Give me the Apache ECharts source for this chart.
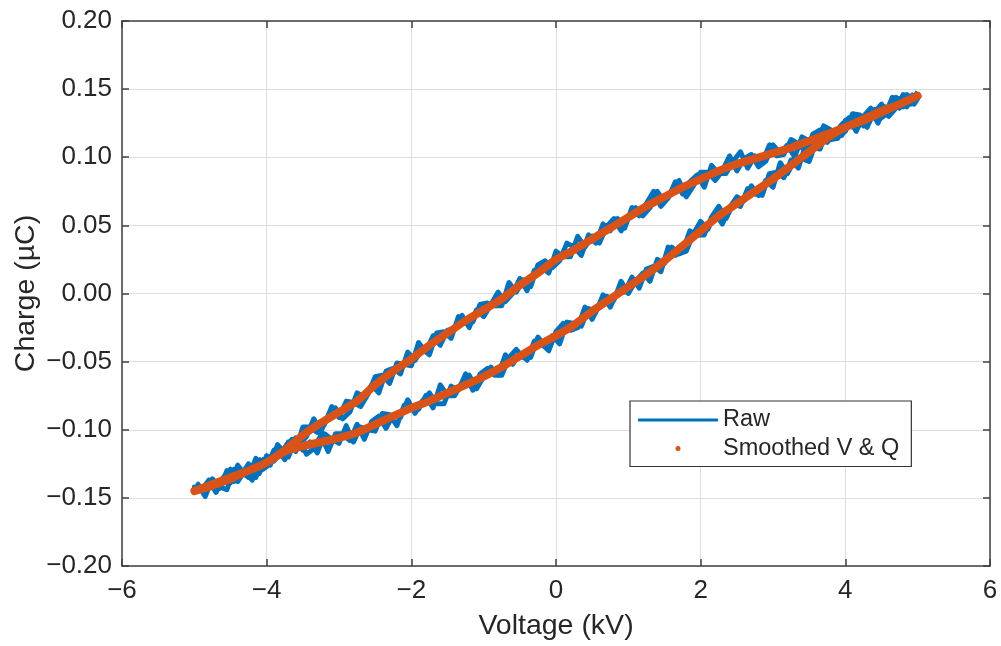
<!DOCTYPE html>
<html>
<head>
<meta charset="utf-8">
<title>Charge vs Voltage</title>
<style>
html,body{
	margin:0;
	padding:0;
	background:#fff;
}
#chart{
	width:1001px;
	height:646px;
}
</style>
<script src="https://cdn.jsdelivr.net/npm/echarts@6/dist/echarts.min.js"></script>
</head>
<body>
<div id="chart"></div>
<script type="text/javascript">
	// 坐标轴刻度
	var xTicks=[-6,-4,-2,0,2,4,6];
	var yTicks=[-0.2,-0.15,-0.1,-0.05,0,0.05,0.1,0.15,0.2];

	// 原始数据, 第一周期 - 下降段 (V: 5 -> -5)
	var upV=[5.0,4.9,4.8,4.7,4.6,4.5,4.4,4.3,4.2,4.1,4.0,3.9,3.8,3.7,3.6,3.5,3.4,3.3,3.2,3.1,
		3.0,2.9,2.8,2.7,2.6,2.5,2.4,2.3,2.2,2.1,2.0,1.9,1.8,1.7,1.6,1.5,1.4,1.3,1.2,1.1,
		1.0,0.9,0.8,0.7,0.6,0.5,0.4,0.3,0.2,0.1,0.0,-0.1,-0.2,-0.3,-0.4,-0.5,-0.6,-0.7,-0.8,-0.9,
		-1.0,-1.1,-1.2,-1.3,-1.4,-1.5,-1.6,-1.7,-1.8,-1.9,-2.0,-2.1,-2.2,-2.3,-2.4,-2.5,-2.6,-2.7,-2.8,-2.9,
		-3.0,-3.1,-3.2,-3.3,-3.4,-3.5,-3.6,-3.7,-3.8,-3.9,-4.0,-4.1,-4.2,-4.3,-4.4,-4.5,-4.6,-4.7,-4.8,-4.9,-5.0];
	var upQ=[0.148,0.139,0.146,0.136,0.130,0.139,0.133,0.122,0.131,0.132,0.119,0.115,0.120,0.123,0.108,0.112,0.115,0.100,0.109,0.103,
		0.109,0.097,0.093,0.102,0.099,0.090,0.101,0.090,0.083,0.089,0.089,0.079,0.071,0.083,0.074,0.067,0.075,0.063,0.057,0.063,
		0.057,0.046,0.055,0.049,0.037,0.042,0.034,0.042,0.027,0.027,0.031,0.015,0.019,0.017,0.002,0.011,0.000,-0.006,0.001,-0.008,
		-0.017,-0.012,-0.025,-0.016,-0.026,-0.027,-0.038,-0.031,-0.043,-0.036,-0.053,-0.052,-0.051,-0.066,-0.060,-0.061,-0.074,-0.083,-0.080,-0.079,
		-0.091,-0.083,-0.096,-0.102,-0.098,-0.098,-0.116,-0.109,-0.117,-0.123,-0.119,-0.132,-0.126,-0.133,-0.126,-0.139,-0.135,-0.144,-0.137,-0.144,-0.142];

	// 原始数据, 第一周期 - 上升段 (V: -5 -> 5)
	var loV=[-4.9,-4.8,-4.7,-4.6,-4.5,-4.4,-4.3,-4.2,-4.1,-4.0,-3.9,-3.8,-3.7,-3.6,-3.5,-3.4,-3.3,-3.2,-3.1,-3.0,
		-2.9,-2.8,-2.7,-2.6,-2.5,-2.4,-2.3,-2.2,-2.1,-2.0,-1.9,-1.8,-1.7,-1.6,-1.5,-1.4,-1.3,-1.2,-1.1,-1.0,
		-0.9,-0.8,-0.7,-0.6,-0.5,-0.4,-0.3,-0.2,-0.1,0.0,0.1,0.2,0.3,0.4,0.5,0.6,0.7,0.8,0.9,1.0,
		1.1,1.2,1.3,1.4,1.5,1.6,1.7,1.8,1.9,2.0,2.1,2.2,2.3,2.4,2.5,2.6,2.7,2.8,2.9,3.0,
		3.1,3.2,3.3,3.4,3.5,3.6,3.7,3.8,3.9,4.0,4.1,4.2,4.3,4.4,4.5,4.6,4.7,4.8,4.9,5.0];
	var loQ=[-0.145,-0.137,-0.146,-0.135,-0.129,-0.138,-0.130,-0.137,-0.122,-0.127,-0.115,-0.119,-0.120,-0.106,-0.115,-0.109,-0.117,-0.103,-0.107,-0.110,
		-0.097,-0.109,-0.098,-0.100,-0.101,-0.088,-0.089,-0.097,-0.082,-0.083,-0.085,-0.075,-0.084,-0.067,-0.075,-0.075,-0.065,-0.060,-0.070,-0.061,
		-0.054,-0.060,-0.045,-0.052,-0.044,-0.049,-0.035,-0.037,-0.042,-0.028,-0.022,-0.027,-0.025,-0.010,-0.019,-0.008,-0.002,-0.005,0.009,0.000,
		0.009,0.015,0.009,0.025,0.022,0.034,0.029,0.031,0.044,0.053,0.047,0.059,0.051,0.063,0.071,0.068,0.079,0.072,0.083,0.078,
		0.096,0.088,0.098,0.099,0.097,0.112,0.118,0.113,0.114,0.127,0.122,0.129,0.122,0.135,0.134,0.131,0.144,0.137,0.145,0.143];

	// 原始数据, 第二周期 - 下降段
	var up2V=[4.95,4.85,4.75,4.65,4.55,4.45,4.35,4.25,4.15,4.05,3.95,3.85,3.75,3.65,3.55,3.45,3.35,3.25,3.15,3.05,
		2.95,2.85,2.75,2.65,2.55,2.45,2.35,2.25,2.15,2.05,1.95,1.85,1.75,1.65,1.55,1.45,1.35,1.25,1.15,1.05,
		0.95,0.85,0.75,0.65,0.55,0.45,0.35,0.25,0.15,0.05,-0.05,-0.15,-0.25,-0.35,-0.45,-0.55,-0.65,-0.75,-0.85,-0.95,
		-1.05,-1.15,-1.25,-1.35,-1.45,-1.55,-1.65,-1.75,-1.85,-1.95,-2.05,-2.15,-2.25,-2.35,-2.45,-2.55,-2.65,-2.75,-2.85,-2.95,
		-3.05,-3.15,-3.25,-3.35,-3.45,-3.55,-3.65,-3.75,-3.85,-3.95,-4.05,-4.15,-4.25,-4.35,-4.45,-4.55,-4.65,-4.75,-4.85,-4.95];
	var up2Q=[0.139,0.146,0.136,0.144,0.131,0.127,0.136,0.130,0.119,0.129,0.124,0.117,0.111,0.120,0.117,0.104,0.110,0.113,0.102,0.101,
		0.109,0.096,0.101,0.092,0.104,0.097,0.088,0.088,0.094,0.078,0.087,0.082,0.073,0.082,0.070,0.064,0.075,0.066,0.057,0.063,
		0.048,0.055,0.046,0.051,0.037,0.043,0.028,0.034,0.037,0.024,0.019,0.024,0.021,0.005,0.010,0.001,0.008,-0.009,-0.009,-0.007,
		-0.008,-0.021,-0.022,-0.017,-0.033,-0.028,-0.029,-0.045,-0.041,-0.049,-0.043,-0.059,-0.055,-0.057,-0.073,-0.067,-0.076,-0.073,-0.087,-0.092,
		-0.084,-0.090,-0.101,-0.092,-0.105,-0.111,-0.107,-0.117,-0.111,-0.126,-0.122,-0.135,-0.125,-0.133,-0.138,-0.130,-0.143,-0.138,-0.148,-0.140];

	// 原始数据, 第二周期 - 上升段
	var lo2V=[-4.95,-4.85,-4.75,-4.65,-4.55,-4.45,-4.35,-4.25,-4.15,-4.05,-3.95,-3.85,-3.75,-3.65,-3.55,-3.45,-3.35,-3.25,-3.15,-3.05,
		-2.95,-2.85,-2.75,-2.65,-2.55,-2.45,-2.35,-2.25,-2.15,-2.05,-1.95,-1.85,-1.75,-1.65,-1.55,-1.45,-1.35,-1.25,-1.15,-1.05,
		-0.95,-0.85,-0.75,-0.65,-0.55,-0.45,-0.35,-0.25,-0.15,-0.05,0.05,0.15,0.25,0.35,0.45,0.55,0.65,0.75,0.85,0.95,
		1.05,1.15,1.25,1.35,1.45,1.55,1.65,1.75,1.85,1.95,2.05,2.15,2.25,2.35,2.45,2.55,2.65,2.75,2.85,2.95,
		3.05,3.15,3.25,3.35,3.45,3.55,3.65,3.75,3.85,3.95,4.05,4.15,4.25,4.35,4.45,4.55,4.65,4.75,4.85,4.95];
	var lo2Q=[-0.140,-0.149,-0.136,-0.142,-0.144,-0.129,-0.131,-0.135,-0.121,-0.129,-0.125,-0.114,-0.122,-0.112,-0.106,-0.118,-0.114,-0.104,-0.116,-0.103,
		-0.103,-0.108,-0.096,-0.107,-0.094,-0.090,-0.099,-0.089,-0.091,-0.078,-0.088,-0.079,-0.073,-0.081,-0.081,-0.068,-0.071,-0.059,-0.071,-0.059,
		-0.055,-0.060,-0.060,-0.047,-0.041,-0.047,-0.047,-0.032,-0.039,-0.031,-0.037,-0.021,-0.022,-0.024,-0.011,-0.014,-0.001,-0.010,0.002,0.001,
		0.012,0.004,0.018,0.020,0.016,0.034,0.028,0.031,0.046,0.043,0.043,0.056,0.064,0.055,0.066,0.064,0.077,0.073,0.072,0.088,
		0.089,0.085,0.098,0.092,0.109,0.107,0.106,0.120,0.115,0.116,0.125,0.131,0.123,0.135,0.125,0.137,0.135,0.143,0.137,0.147];

	// 平滑后的数据 (先下降段, 再上升段)
	var smoothV=[5.0,4.75,4.5,4.25,4.0,3.75,3.5,3.25,3.0,2.75,2.5,2.25,2.0,1.75,1.5,1.25,1.0,0.75,0.5,0.25,
		0.0,-0.25,-0.5,-0.75,-1.0,-1.25,-1.5,-1.75,-2.0,-2.25,-2.5,-2.75,-3.0,-3.25,-3.5,-3.75,-4.0,-4.25,-4.5,-4.75,-5.0,
		-4.75,-4.5,-4.25,-4.0,-3.75,-3.5,-3.25,-3.0,-2.75,-2.5,-2.25,-2.0,-1.75,-1.5,-1.25,-1.0,-0.75,-0.5,-0.25,
		0.0,0.25,0.5,0.75,1.0,1.25,1.5,1.75,2.0,2.25,2.5,2.75,3.0,3.25,3.5,3.75,4.0,4.25,4.5,4.75,5.0];
	var smoothQ=[0.145,0.139,0.134,0.128,0.122,0.117,0.112,0.107,0.103,0.099,0.095,0.090,0.084,0.078,0.071,0.064,0.056,0.048,0.040,0.032,
		0.025,0.015,0.006,-0.004,-0.012,-0.020,-0.029,-0.038,-0.048,-0.057,-0.067,-0.079,-0.087,-0.095,-0.104,-0.115,-0.124,-0.130,-0.135,-0.140,-0.145,
		-0.141,-0.136,-0.130,-0.124,-0.116,-0.112,-0.109,-0.106,-0.102,-0.096,-0.090,-0.084,-0.079,-0.073,-0.067,-0.061,-0.054,-0.046,-0.038,
		-0.031,-0.023,-0.013,-0.004,0.005,0.014,0.024,0.035,0.046,0.057,0.066,0.075,0.084,0.094,0.104,0.114,0.122,0.127,0.133,0.139,0.145];

	function pairs(vs,qs,out){
		for(var i=0;i<vs.length;i++){
			out.push([vs[i],qs[i]]);
		}
		return out;
	}
	var rawData=[];
	pairs(upV,upQ,rawData);
	pairs(loV,loQ,rawData);
	pairs(up2V,up2Q,rawData);
	pairs(lo2V,lo2Q,rawData);
	var smoothData=pairs(smoothV,smoothQ,[]);

	var fontName='"Liberation Sans", Arial, sans-serif';
	var axisColor='#404040';
	var textColor='#262626';

	function minusSign(s){
		return s.replace('-','\u2212');
	}

	var chart=echarts.init(document.getElementById('chart'));
	var option={
		backgroundColor:'#fff',
		animation:false,
		textStyle:{fontFamily:fontName},
		grid:{left:122,right:11,top:21,bottom:78},
		legend:{
			orient:'vertical',
			left:630,
			top:401,
			padding:[7,12,6,8],
			itemGap:4.5,
			itemWidth:80,
			itemHeight:5,
			backgroundColor:'#fff',
			borderColor:'#333',
			borderWidth:1.2,
			borderRadius:0,
			textStyle:{fontSize:23.5,color:textColor,fontFamily:fontName},
			data:[
				{name:'Raw',icon:'path://M0,0L80,0L80,3L0,3Z'},
				{name:'Smoothed V & Q',icon:'circle'}
			]
		},
		xAxis:[{
			type:'value',
			min:xTicks[0],
			max:xTicks[xTicks.length-1],
			interval:2,
			name:'Voltage (kV)',
			nameLocation:'middle',
			nameGap:46,
			nameMoveOverlap:false,
			nameTextStyle:{fontSize:28.5,color:textColor,fontFamily:fontName},
			axisLine:{show:true,onZero:false,lineStyle:{color:axisColor,width:1.5}},
			axisTick:{show:true,inside:true,length:7,lineStyle:{color:axisColor,width:1.5}},
			axisLabel:{fontSize:26,color:textColor,margin:12,fontFamily:fontName,
				formatter:function(v){return minusSign(String(v));}},
			splitLine:{show:true,lineStyle:{color:'#dedede',width:1}}
		},{
			type:'value',
			position:'top',
			min:xTicks[0],
			max:xTicks[xTicks.length-1],
			interval:2,
			axisLine:{show:true,onZero:false,lineStyle:{color:axisColor,width:1.5}},
			axisTick:{show:true,inside:true,length:7,lineStyle:{color:axisColor,width:1.5}},
			axisLabel:{show:false},
			splitLine:{show:false}
		}],
		yAxis:[{
			type:'value',
			min:yTicks[0],
			max:yTicks[yTicks.length-1],
			interval:0.05,
			name:'Charge (\u00b5C)',
			nameLocation:'middle',
			nameGap:81,
			nameMoveOverlap:false,
			nameTextStyle:{fontSize:28.5,color:textColor,fontFamily:fontName},
			axisLine:{show:true,onZero:false,lineStyle:{color:axisColor,width:1.5}},
			axisTick:{show:true,inside:true,length:7,lineStyle:{color:axisColor,width:1.5}},
			axisLabel:{fontSize:26,color:textColor,margin:10,fontFamily:fontName,
				formatter:function(v){return minusSign(v.toFixed(2));}},
			splitLine:{show:true,lineStyle:{color:'#dedede',width:1}}
		},{
			type:'value',
			position:'right',
			min:yTicks[0],
			max:yTicks[yTicks.length-1],
			interval:0.05,
			axisLine:{show:true,onZero:false,lineStyle:{color:axisColor,width:1.5}},
			axisTick:{show:true,inside:true,length:7,lineStyle:{color:axisColor,width:1.5}},
			axisLabel:{show:false},
			splitLine:{show:false}
		}],
		series:[{
			name:'Raw',
			type:'line',
			xAxisIndex:0,
			yAxisIndex:0,
			data:rawData,
			showSymbol:false,
			color:'#0072BD',
			lineStyle:{color:'#0072BD',width:5,join:'round'}
		},{
			name:'Smoothed V & Q',
			type:'line',
			xAxisIndex:0,
			yAxisIndex:0,
			data:smoothData,
			showSymbol:false,
			smooth:0.2,
			color:'#D95319',
			lineStyle:{color:'#D95319',width:8,cap:'round',join:'round'}
		}]
	};
	chart.setOption(option);
</script>
</body>
</html>
